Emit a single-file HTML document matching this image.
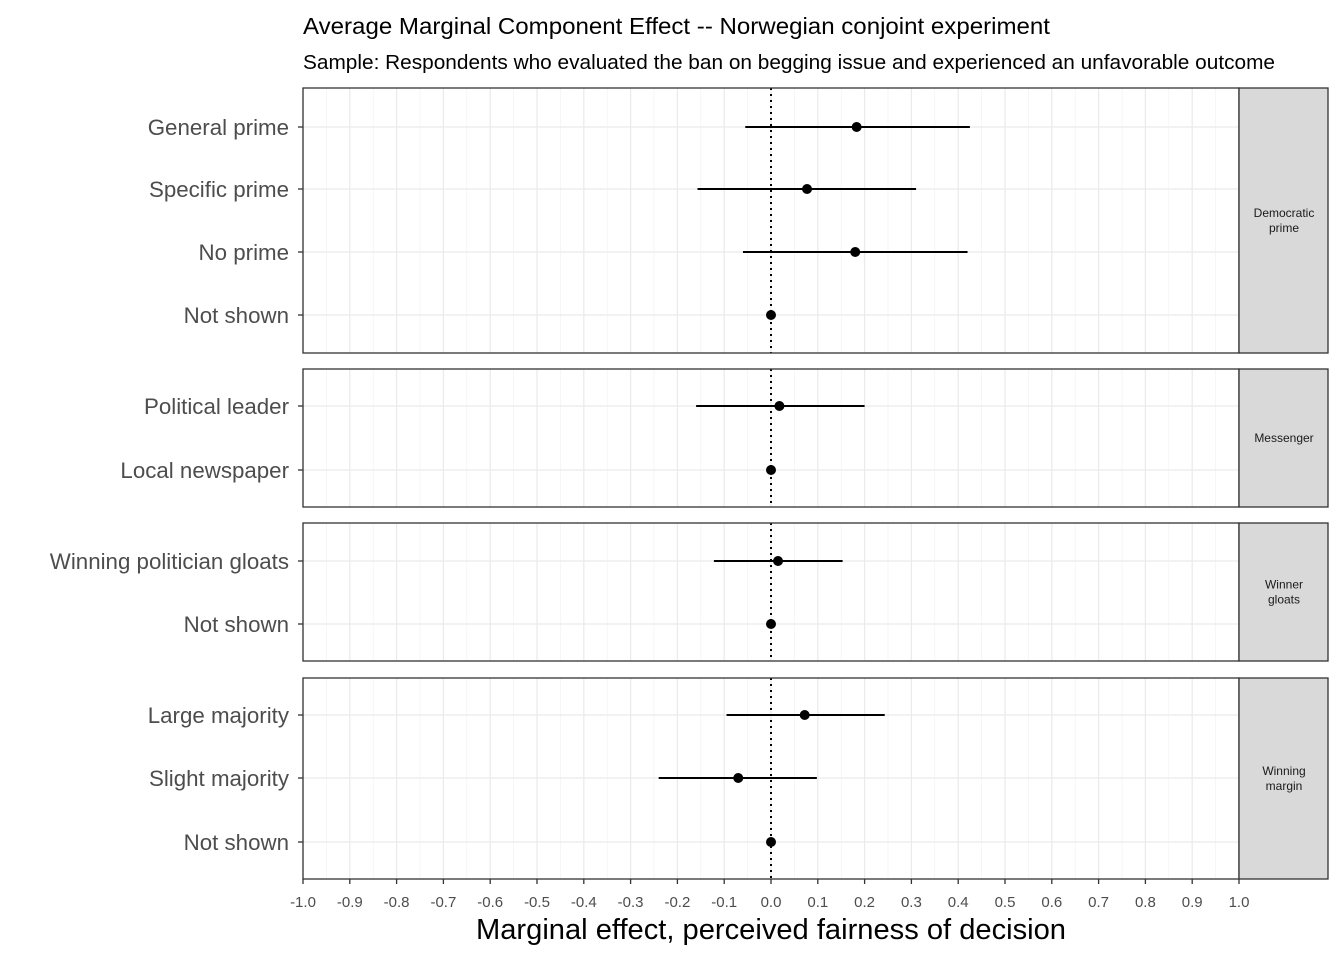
<!DOCTYPE html>
<html><head><meta charset="utf-8"><style>body{margin:0;background:#fff}svg{display:block;font-family:"Liberation Sans",sans-serif}</style></head>
<body>
<svg id="c" width="1344" height="960"></svg>
<script>
const labels=["General prime","Specific prime","No prime","Not shown","Political leader","Local newspaper","Winning politician gloats","Not shown","Large majority","Slight majority","Not shown"];
const estimates=[0.183,0.077,0.180,0,0.018,0,0.015,0,0.072,-0.070,0];
const lower=[-0.055,-0.157,-0.060,0,-0.160,0,-0.122,0,-0.095,-0.240,0];
const upper=[0.425,0.310,0.420,0,0.200,0,0.153,0,0.243,0.098,0];
const groupOf=[0,0,0,0,1,1,2,2,3,3,3];
const groupNames=[["Democratic","prime"],["Messenger"],["Winner","gloats"],["Winning","margin"]];
const ticks=[-1,-0.9,-0.8,-0.7,-0.6,-0.5,-0.4,-0.3,-0.2,-0.1,0,0.1,0.2,0.3,0.4,0.5,0.6,0.7,0.8,0.9,1];
const panels=[[88,353],[369,507],[523,661],[678,879]];
const rowY=[127,189,252,315,406,470,561,624,715,778,842];
const X0=303,X1=1239;
const sx=v=>X0+(v+1)/2*(X1-X0);
const svg=document.getElementById('c');const NS='http://www.w3.org/2000/svg';
function mk(t,a,txt){const e=document.createElementNS(NS,t);for(const k in a)e.setAttribute(k,a[k]);if(txt!==undefined)e.textContent=txt;svg.appendChild(e);return e;}
let e;
e=mk('text',{x:303,y:34,'font-size':23.5,fill:'#000',textLength:747,lengthAdjust:'spacingAndGlyphs'},'Average Marginal Component Effect -- Norwegian conjoint experiment');

e=mk('text',{x:303,y:69,'font-size':20,fill:'#000',textLength:972,lengthAdjust:'spacingAndGlyphs'},'Sample: Respondents who evaluated the ban on begging issue and experienced an unfavorable outcome');

panels.forEach((p,gi)=>{
  for(let v=-1;v<=1.0001;v+=0.05){const major=Math.abs(Math.round(v*10)-v*10)<1e-6;
    e=mk('line',{x1:sx(v),x2:sx(v),y1:p[0],y2:p[1],stroke:major?'#ebebeb':'#f2f2f2','stroke-width':major?1.3:0.7});
    }
  rowY.forEach((y,i)=>{if(groupOf[i]!==gi)return;
    e=mk('line',{x1:X0,x2:X1,y1:y,y2:y,stroke:'#ebebeb','stroke-width':1.3});
    });
  e=mk('line',{x1:sx(0),x2:sx(0),y1:p[0],y2:p[1],stroke:'#000','stroke-width':2,'stroke-dasharray':'2,4'});
  
  e=mk('rect',{x:X0,y:p[0],width:X1-X0,height:p[1]-p[0],fill:'none',stroke:'#333','stroke-width':1.3});
  
  e=mk('rect',{x:X1,y:p[0],width:89,height:p[1]-p[0],fill:'#d9d9d9',stroke:'#333','stroke-width':1.3});
  
  const nm=groupNames[gi],cy=(p[0]+p[1])/2;
  nm.forEach((s,k)=>{e=mk('text',{x:1284,y:cy+4+(k-(nm.length-1)/2)*15,'font-size':12,fill:'#1a1a1a','text-anchor':'middle'},s);
    });
});
labels.forEach((l,i)=>{const y=rowY[i];
  e=mk('line',{x1:X0-5,x2:X0,y1:y,y2:y,stroke:'#333','stroke-width':1.3});
  
  e=mk('text',{x:289,y:y+8,'font-size':22.3,fill:'#4d4d4d','text-anchor':'end'},l);
  
  if(upper[i]!==lower[i]){e=mk('line',{x1:sx(lower[i]),x2:sx(upper[i]),y1:y,y2:y,stroke:'#000','stroke-width':2});
    }
  e=mk('circle',{cx:sx(estimates[i]),cy:y,r:5,fill:'#000'});
  
});
ticks.forEach(t=>{
  e=mk('line',{x1:sx(t),x2:sx(t),y1:879,y2:884,stroke:'#333','stroke-width':1.3});
  
  e=mk('text',{x:sx(t),y:907,'font-size':15,fill:'#4d4d4d','text-anchor':'middle'},t.toFixed(1));
  
});
e=mk('text',{x:771,y:939,'font-size':29,fill:'#000','text-anchor':'middle',textLength:590,lengthAdjust:'spacingAndGlyphs'},'Marginal effect, perceived fairness of decision');

</script>
</body></html>
